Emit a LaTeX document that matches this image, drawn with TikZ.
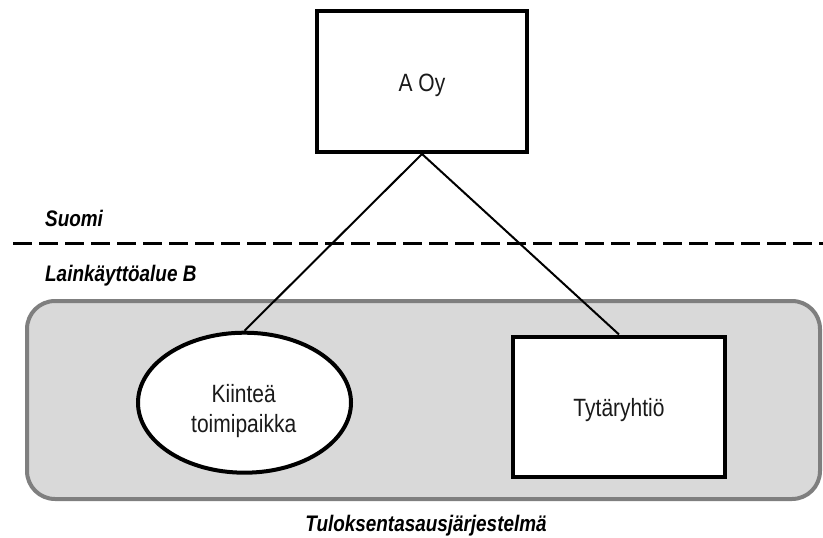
\documentclass[tikz,border=0pt]{standalone}
\usepackage{fontspec}
\setmainfont{Liberation Sans}
\usetikzlibrary{shapes.geometric}
\definecolor{zonefill}{HTML}{D9D9D9}
\definecolor{zoneedge}{HTML}{7F7F7F}
\definecolor{inktext}{HTML}{1A1A1A}
% narrow set text
\newcommand{\narrowtxt}[1]{\scalebox{0.84}[1]{#1}}
\begin{document}
\begin{tikzpicture}[x=1pt,y=-1pt,
  entitybox/.style={draw=black,line width=4pt,fill=white,rectangle,minimum width=#1,inner sep=0pt},
  plainlabel/.style={anchor=base,inner sep=0pt,text=inktext,font=\fontsize{25}{30}\selectfont},
  regionlabel/.style={inner sep=0pt,text=black,font=\fontsize{22.5}{27}\selectfont\bfseries\itshape},
  link/.style={draw=black,line width=2pt},
  border/.style={draw=black,line width=3pt,dash pattern=on 19pt off 7pt}]
\useasboundingbox (0,0) rectangle (823,538);

% tax consolidation zone
\draw[draw=zoneedge,fill=zonefill,line width=4pt,rounded corners=28pt] (27,301) rectangle (820,499);

% entities
\node[entitybox=210pt,minimum height=141pt] (aoy) at (422,81.5) {};
\node[plainlabel] (aoyt) at (422,91.7) {\narrowtxt{A Oy}};

\node[draw=black,line width=4pt,fill=white,ellipse,minimum width=213pt,minimum height=140pt,inner sep=0pt] (kt) at (244.5,402.7) {};
\node[plainlabel] (ktt1) at (243.7,402) {\narrowtxt{Kiinteä}};
\node[plainlabel] (ktt2) at (243.7,432) {\narrowtxt{toimipaikka}};

\node[entitybox=212pt,minimum height=140pt] (ty) at (619,406.5) {};
\node[plainlabel] (tyt) at (619,416) {\narrowtxt{Tytäryhtiö}};

% ownership links
\draw[link] (aoy.south) -- (kt.north);
\draw[link] (aoy.south) -- (ty.north);

% jurisdiction border
\coordinate (bl) at (13,243);
\coordinate (br) at (823,243);
\draw[border] (bl) -- (br);

% region labels
\node[regionlabel,anchor=base west] (fi) at (45,226.7) {\narrowtxt{Suomi}};
\node[regionlabel,anchor=base west] (jb) at (45,281.7) {\narrowtxt{Lainkäyttöalue B}};
\node[regionlabel,anchor=base] (tl) at (426,531.7) {\narrowtxt{Tuloksentasausjärjestelmä}};
\end{tikzpicture}
\end{document}
